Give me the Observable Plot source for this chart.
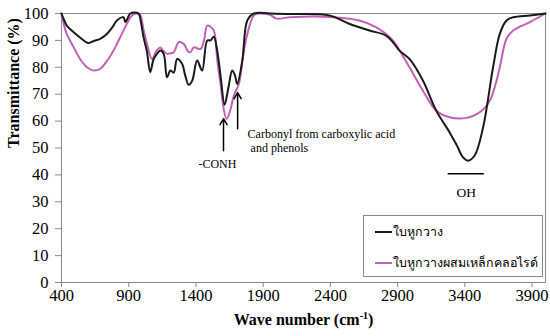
<!DOCTYPE html>
<html>
<head>
<meta charset="utf-8">
<script src="https://cdn.jsdelivr.net/npm/d3@7"></script>
<script src="https://cdn.jsdelivr.net/npm/@observablehq/plot@0.6"></script>
<style>
  html, body { margin: 0; padding: 0; background: #fff; }
  #wrap { position: relative; width: 550px; height: 336px; font-family: "Liberation Serif", serif; }
  #wrap svg, #wrap svg text { font-family: "Liberation Serif", serif !important; }
  #legend { position: absolute; left: 363px; top: 215px; width: 180px; height: 62px; border: 1px solid #888; background: #fff; box-sizing: border-box; }
  .item { position: absolute; left: 11px; display: flex; align-items: center; font-size: 14px; color: #000; white-space: nowrap; }
  .sw { width: 17px; height: 0; border-top: 2px solid; margin-right: 1px; }
</style>
</head>
<body>
<div id="wrap">
  <div id="legend">
    <div class="item" id="it0" style="top:6px"><span class="sw" id="sw0"></span><span id="lab0"></span></div>
    <div class="item" id="it1" style="top:37px"><span class="sw" id="sw1"></span><span id="lab1"></span></div>
  </div>
</div>
<script>
// Series names
const seriesNames = ["ใบหูกวาง", "ใบหูกวางผสมเหล็กคลอไรด์"];
const seriesColors = ["#1a1a1a", "#c260b6"];

// Black series: wavenumber (cm-1) and transmittance (%)
const blackWave = [400,420,439,480,540,600,640,687,737,780,812,861,874,890,911,973,990,1010,1035,1060,1085,1110,1135,1160,1185,1210,1235,1260,1297,1320,1346,1372,1409,1446,1484,1509,1533,1558,1585,1613,1640,1670,1690,1707,1745,1782,1831,1950,2100,2391,2540,2690,2814,2870,2914,2988,3088,3187,3287,3340,3387,3424,3473,3536,3610,3660,3710,3760,3884,4000];
const blackT = [100,97.5,95.5,93.5,91,89,89.8,90.6,92.4,95,97.4,98.6,96.8,98,100,100,97,91.2,86,78.2,83,85,86.2,85,76.3,78.8,78,83.1,81.3,77,73.5,75,82.5,78.8,90,90,91.4,86.2,76,66.1,72,78.8,77,73.8,82.5,97.4,100,100,99.8,99.3,96.2,93.7,91.8,89,86.2,83.1,75.1,63.9,55.8,51,46.5,45.3,47.2,57.7,80,92.4,97.4,98.6,99.3,100];

// Magenta series
const pinkWave = [400,420,439,490,538,590,637,687,740,787,830,861,895,924,961,986,1010,1036,1073,1105,1135,1160,1185,1210,1235,1272,1309,1340,1359,1384,1434,1460,1484,1510,1533,1560,1583,1605,1628,1655,1682,1719,1750,1782,1831,1870,1950,2000,2100,2400,2615,2739,2864,2930,2988,3088,3187,3287,3411,3511,3586,3630,3660,3710,3760,3884,4000];
const pinkT = [100,95.5,92.4,87.5,83.1,80,78.8,79.4,82.5,86.2,90.5,93.7,97,99.3,100,99.3,94,88.7,83.1,86,87.4,86,85,85.2,85.6,89.3,88.7,86,85.6,87.4,86.8,90,95.5,95,93.7,82,73.8,65,60.8,64,69.5,73.8,84,92.4,99.3,100,99.5,98.1,98.6,98.7,97.4,94.9,90,85,80,71.3,63.9,61.4,61.2,63.3,67.6,74,80,90.6,93.7,96.8,100];

// Tick values
const xTicks = [400,900,1400,1900,2400,2900,3400,3900];
const yTicks = [0,10,20,30,40,50,60,70,80,90,100];

// Annotations (data coordinates)
const arrowX = [1605, 1710];
const arrowFrom = [49, 57.2];
const arrowTo = [60.9, 70.6];
const noteText = ["-CONH", "Carbonyl from carboxylic acid", " and phenols", "OH"];
const noteX = [1560, 1784, 1784, 3410];
const noteY = [44, 55.3, 49.8, 33.4];
const ohLineX = [3276, 3545];
const ohLineY = 40.4;

const black = blackWave.map((w, i) => ({w, t: blackT[i]}));
const pink = pinkWave.map((w, i) => ({w, t: pinkT[i]}));
const arrows = arrowX.map((x, i) => ({x, y1: arrowFrom[i], y2: arrowTo[i]}));
const notes = noteText.map((s, i) => ({s, x: noteX[i], y: noteY[i]}));

const svg = Plot.plot({
  width: 550,
  height: 336,
  marginLeft: 61,
  marginRight: 5,
  marginTop: 13,
  marginBottom: 54,
  style: {fontFamily: "'Liberation Serif', serif", fontSize: "16px", color: "#000", background: "#fff"},
  x: {domain: [400, 4000]},
  y: {domain: [0, 100]},
  marks: [
    Plot.frame({stroke: "#8a8a8a"}),
    Plot.axisX({ticks: xTicks, tickFormat: d => String(d), tickSize: 5, tickPadding: 2, label: null, stroke: "#8a8a8a", fill: "#000", fontSize: 16.5}),
    Plot.axisY({ticks: yTicks, tickFormat: d => String(d), tickSize: 6, tickPadding: 7, label: null, stroke: "#8a8a8a", fill: "#000", fontSize: 16.5}),
    Plot.line(pink, {x: "w", y: "t", stroke: seriesColors[1], strokeWidth: 2, curve: "catmull-rom"}),
    Plot.line(black, {x: "w", y: "t", stroke: seriesColors[0], strokeWidth: 2, curve: "catmull-rom"}),
    Plot.arrow(arrows, {x1: "x", x2: "x", y1: "y1", y2: "y2", stroke: "#000", strokeWidth: 1.5, headLength: 7}),
    Plot.text(notes.slice(0, 1), {x: "x", y: "y", text: "s", fontSize: 12, fill: "#000"}),
    Plot.text(notes.slice(1, 3), {x: "x", y: "y", text: "s", fontSize: 12, fill: "#000", textAnchor: "start"}),
    Plot.text(notes.slice(3), {x: "x", y: "y", text: "s", fontSize: 13.5, fill: "#000"}),
    Plot.ruleY([ohLineY], {x1: ohLineX[0], x2: ohLineX[1], stroke: "#000", strokeWidth: 1.5}),
    Plot.text(["Wave number (cm-1)"], {frameAnchor: "bottom", dy: 42, fontWeight: "bold", fontSize: 16, fill: "#000"}),
    Plot.text(["Transmittance (%)"], {frameAnchor: "left", dx: -48, rotate: -90, fontWeight: "bold", fontSize: 16, fill: "#000"})
  ]
});

// superscript for cm-1
d3.select(svg).selectAll("text").filter(function() { return this.textContent === "Wave number (cm-1)"; })
  .each(function() {
    const t = d3.select(this);
    t.text(null);
    t.append("tspan").text("Wave number (cm");
    t.append("tspan").attr("font-size", 10).attr("dy", -6).text("-1");
    t.append("tspan").attr("dy", 6).text(")");
  });

document.getElementById("wrap").prepend(svg);
for (let i = 0; i < 2; i++) {
  document.getElementById("sw" + i).style.borderColor = seriesColors[i];
  document.getElementById("lab" + i).textContent = seriesNames[i];
}
// fit legend label width to the box (reference: ~145px for the longer label)
const lab1 = document.getElementById("lab1");
const w1 = lab1.getBoundingClientRect().width;
const fs = Math.min(14, 14 * 145 / w1);
document.getElementById("it0").style.fontSize = fs + "px";
document.getElementById("it1").style.fontSize = fs + "px";
</script>
</body>
</html>
